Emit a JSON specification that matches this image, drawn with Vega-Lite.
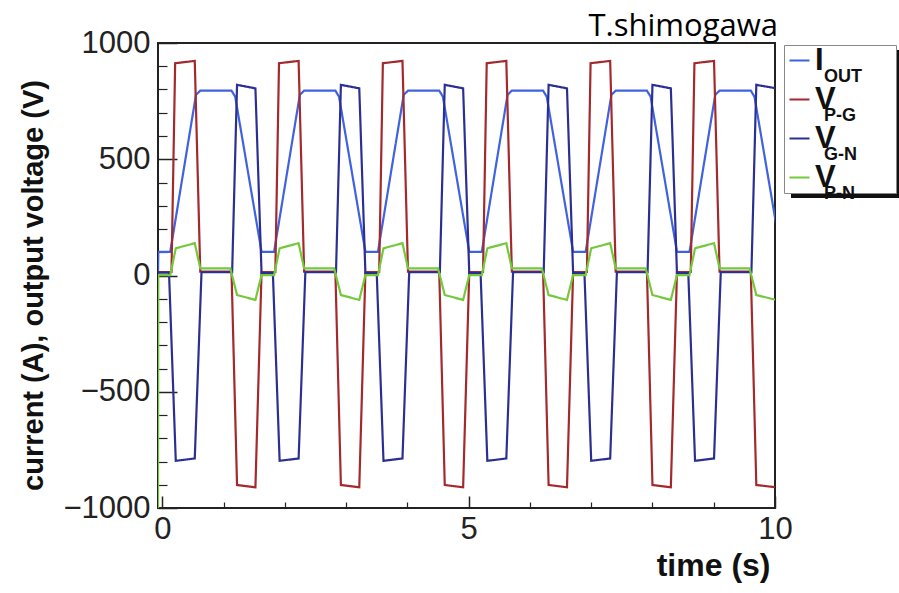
{
  "$schema": "https://vega.github.io/schema/vega-lite/v6.json",
  "width": 617,
  "height": 465,
  "autosize": {"type": "none"},
  "padding": {"left": 158, "top": 43, "right": 124, "bottom": 85},
  "background": "white",
  "config": {"view": {"stroke": "#222", "strokeWidth": 2}, "font": "Liberation Sans"},
  "title": {"text": "T.shimogawa", "anchor": "end", "frame": "group", "font": "Open Sans", "fontSize": 31, "fontWeight": "normal", "color": "black", "offset": 4, "dx": 3, "dy": 20},
  "data": {"values": [
    {"s":"I","t":-0.07,"v":0},{"s":"I","t":-0.065,"v":102},
    {"s":"I","t":0.13,"v":102},{"s":"I","t":0.55,"v":777},{"s":"I","t":0.62,"v":795},{"s":"I","t":1.13,"v":795},{"s":"I","t":1.19,"v":769},{"s":"I","t":1.62,"v":102},
    {"s":"I","t":1.825,"v":102},{"s":"I","t":2.245,"v":777},{"s":"I","t":2.315,"v":795},{"s":"I","t":2.825,"v":795},{"s":"I","t":2.885,"v":769},{"s":"I","t":3.315,"v":102},
    {"s":"I","t":3.52,"v":102},{"s":"I","t":3.94,"v":777},{"s":"I","t":4.01,"v":795},{"s":"I","t":4.52,"v":795},{"s":"I","t":4.58,"v":769},{"s":"I","t":5.01,"v":102},
    {"s":"I","t":5.215,"v":102},{"s":"I","t":5.635,"v":777},{"s":"I","t":5.705,"v":795},{"s":"I","t":6.215,"v":795},{"s":"I","t":6.275,"v":769},{"s":"I","t":6.705,"v":102},
    {"s":"I","t":6.91,"v":102},{"s":"I","t":7.33,"v":777},{"s":"I","t":7.4,"v":795},{"s":"I","t":7.91,"v":795},{"s":"I","t":7.97,"v":769},{"s":"I","t":8.4,"v":102},
    {"s":"I","t":8.605,"v":102},{"s":"I","t":9.025,"v":777},{"s":"I","t":9.095,"v":795},{"s":"I","t":9.605,"v":795},{"s":"I","t":9.665,"v":769},{"s":"I","t":10.095,"v":102},

    {"s":"PG","t":-0.07,"v":15},
    {"s":"PG","t":0.15,"v":15},{"s":"PG","t":0.21,"v":913},{"s":"PG","t":0.53,"v":923},{"s":"PG","t":0.62,"v":17},{"s":"PG","t":1.13,"v":17},{"s":"PG","t":1.22,"v":-901},{"s":"PG","t":1.52,"v":-911},{"s":"PG","t":1.62,"v":15},
    {"s":"PG","t":1.845,"v":15},{"s":"PG","t":1.905,"v":913},{"s":"PG","t":2.225,"v":923},{"s":"PG","t":2.315,"v":17},{"s":"PG","t":2.825,"v":17},{"s":"PG","t":2.915,"v":-901},{"s":"PG","t":3.215,"v":-911},{"s":"PG","t":3.315,"v":15},
    {"s":"PG","t":3.54,"v":15},{"s":"PG","t":3.6,"v":913},{"s":"PG","t":3.92,"v":923},{"s":"PG","t":4.01,"v":17},{"s":"PG","t":4.52,"v":17},{"s":"PG","t":4.61,"v":-901},{"s":"PG","t":4.91,"v":-911},{"s":"PG","t":5.01,"v":15},
    {"s":"PG","t":5.235,"v":15},{"s":"PG","t":5.295,"v":913},{"s":"PG","t":5.615,"v":923},{"s":"PG","t":5.705,"v":17},{"s":"PG","t":6.215,"v":17},{"s":"PG","t":6.305,"v":-901},{"s":"PG","t":6.605,"v":-911},{"s":"PG","t":6.705,"v":15},
    {"s":"PG","t":6.93,"v":15},{"s":"PG","t":6.99,"v":913},{"s":"PG","t":7.31,"v":923},{"s":"PG","t":7.4,"v":17},{"s":"PG","t":7.91,"v":17},{"s":"PG","t":8.0,"v":-901},{"s":"PG","t":8.3,"v":-911},{"s":"PG","t":8.4,"v":15},
    {"s":"PG","t":8.625,"v":15},{"s":"PG","t":8.685,"v":913},{"s":"PG","t":9.005,"v":923},{"s":"PG","t":9.095,"v":17},{"s":"PG","t":9.605,"v":17},{"s":"PG","t":9.695,"v":-901},{"s":"PG","t":10.02,"v":-911},{"s":"PG","t":10.12,"v":15},

    {"s":"GN","t":-0.07,"v":12},
    {"s":"GN","t":0.11,"v":12},{"s":"GN","t":0.22,"v":-797},{"s":"GN","t":0.53,"v":-787},{"s":"GN","t":0.64,"v":14},{"s":"GN","t":1.14,"v":14},{"s":"GN","t":1.22,"v":820},{"s":"GN","t":1.52,"v":805},{"s":"GN","t":1.62,"v":10},
    {"s":"GN","t":1.805,"v":10},{"s":"GN","t":1.915,"v":-797},{"s":"GN","t":2.225,"v":-787},{"s":"GN","t":2.335,"v":14},{"s":"GN","t":2.835,"v":14},{"s":"GN","t":2.915,"v":820},{"s":"GN","t":3.215,"v":805},{"s":"GN","t":3.315,"v":10},
    {"s":"GN","t":3.5,"v":10},{"s":"GN","t":3.61,"v":-797},{"s":"GN","t":3.92,"v":-787},{"s":"GN","t":4.03,"v":14},{"s":"GN","t":4.53,"v":14},{"s":"GN","t":4.61,"v":820},{"s":"GN","t":4.91,"v":805},{"s":"GN","t":5.01,"v":10},
    {"s":"GN","t":5.195,"v":10},{"s":"GN","t":5.305,"v":-797},{"s":"GN","t":5.615,"v":-787},{"s":"GN","t":5.725,"v":14},{"s":"GN","t":6.225,"v":14},{"s":"GN","t":6.305,"v":820},{"s":"GN","t":6.605,"v":805},{"s":"GN","t":6.705,"v":10},
    {"s":"GN","t":6.89,"v":10},{"s":"GN","t":7.0,"v":-797},{"s":"GN","t":7.31,"v":-787},{"s":"GN","t":7.42,"v":14},{"s":"GN","t":7.92,"v":14},{"s":"GN","t":8.0,"v":820},{"s":"GN","t":8.3,"v":805},{"s":"GN","t":8.4,"v":10},
    {"s":"GN","t":8.585,"v":10},{"s":"GN","t":8.695,"v":-797},{"s":"GN","t":9.005,"v":-787},{"s":"GN","t":9.115,"v":14},{"s":"GN","t":9.615,"v":14},{"s":"GN","t":9.695,"v":820},{"s":"GN","t":10.02,"v":805},{"s":"GN","t":10.12,"v":10},

    {"s":"PN","t":-0.07,"v":-1000},{"s":"PN","t":-0.065,"v":2},
    {"s":"PN","t":0.13,"v":2},{"s":"PN","t":0.22,"v":117},{"s":"PN","t":0.53,"v":139},{"s":"PN","t":0.62,"v":31},{"s":"PN","t":1.11,"v":31},{"s":"PN","t":1.22,"v":-84},{"s":"PN","t":1.52,"v":-105},{"s":"PN","t":1.62,"v":2},
    {"s":"PN","t":1.825,"v":2},{"s":"PN","t":1.915,"v":117},{"s":"PN","t":2.225,"v":139},{"s":"PN","t":2.315,"v":31},{"s":"PN","t":2.805,"v":31},{"s":"PN","t":2.915,"v":-84},{"s":"PN","t":3.215,"v":-105},{"s":"PN","t":3.315,"v":2},
    {"s":"PN","t":3.52,"v":2},{"s":"PN","t":3.61,"v":117},{"s":"PN","t":3.92,"v":139},{"s":"PN","t":4.01,"v":31},{"s":"PN","t":4.5,"v":31},{"s":"PN","t":4.61,"v":-84},{"s":"PN","t":4.91,"v":-105},{"s":"PN","t":5.01,"v":2},
    {"s":"PN","t":5.215,"v":2},{"s":"PN","t":5.305,"v":117},{"s":"PN","t":5.615,"v":139},{"s":"PN","t":5.705,"v":31},{"s":"PN","t":6.195,"v":31},{"s":"PN","t":6.305,"v":-84},{"s":"PN","t":6.605,"v":-105},{"s":"PN","t":6.705,"v":2},
    {"s":"PN","t":6.91,"v":2},{"s":"PN","t":7.0,"v":117},{"s":"PN","t":7.31,"v":139},{"s":"PN","t":7.4,"v":31},{"s":"PN","t":7.89,"v":31},{"s":"PN","t":8.0,"v":-84},{"s":"PN","t":8.3,"v":-105},{"s":"PN","t":8.4,"v":2},
    {"s":"PN","t":8.605,"v":2},{"s":"PN","t":8.695,"v":117},{"s":"PN","t":9.005,"v":139},{"s":"PN","t":9.095,"v":31},{"s":"PN","t":9.585,"v":31},{"s":"PN","t":9.695,"v":-84},{"s":"PN","t":10.02,"v":-105},{"s":"PN","t":10.12,"v":2}
  ]},
  "resolve": {"axis": {"x": "independent", "y": "independent"}},
  "layer": [
    {
      "mark": {"type": "line", "clip": true, "strokeWidth": 2.2},
      "encoding": {
        "x": {"field": "t", "type": "quantitative",
          "scale": {"domain": [-0.07, 10], "nice": false, "zero": false},
          "axis": {"orient": "bottom", "values": [0, 5, 10], "format": "d", "tickSize": -12, "tickColor": "#222", "tickWidth": 1.5, "domain": false, "grid": false,
            "labelFontSize": 31, "labelColor": "#222", "labelPadding": 18, "labelFlush": false,
            "title": "time (s)", "titleFontSize": 32, "titleFontWeight": "bold", "titleColor": "#111",
            "titleX": 612, "titleY": 57, "titleAlign": "right", "titleBaseline": "middle", "titleAnchor": "end"}},
        "y": {"field": "v", "type": "quantitative",
          "scale": {"domain": [-1000, 1000], "nice": false, "zero": false},
          "axis": {"orient": "left", "values": [-1000, -500, 0, 500, 1000], "format": "d", "tickSize": -19, "tickColor": "#222", "tickWidth": 1.5, "domain": false, "grid": false,
            "labelFontSize": 31, "labelColor": "#222", "labelPadding": 27, "labelFlush": false, "labelOverlap": false,
            "title": "current (A), output voltage (V)", "titleFontSize": 29, "titleFontWeight": "bold", "titleColor": "#111",
            "titleAngle": -90, "titleX": -125, "titleY": 242, "titleAlign": "center", "titleBaseline": "middle"}},
        "color": {"field": "s", "type": "nominal",
          "scale": {"domain": ["I", "PG", "GN", "PN"], "range": ["#3f62e0", "#a3292c", "#2c2f92", "#72c93c"]},
          "legend": {"orient": "none", "legendX": 633, "legendY": 7, "title": "\u00a0", "titleOrient": "right", "titlePadding": 60,
            "symbolType": "stroke", "symbolOpacity": 0, "symbolStrokeWidth": 2, "symbolSize": 400,
            "labelExpr": "datum.value == 'I' ? 'I' : 'V'", "labelFontSize": 31, "labelFontWeight": "bold", "labelOpacity": 0, "labelOffset": 0,
            "padding": 0, "rowPadding": 7, "fillColor": "#111",
            "encode": {"symbols": {"update": {"opacity": {"value": 0}}}}}},
        "strokeDash": {"field": "s", "type": "nominal",
          "scale": {"domain": ["I", "PG", "GN", "PN", "_"], "range": [[1, 0], [1, 0], [1, 0], [1, 0], [1, 0]]},
          "legend": {"orient": "none", "legendX": 626, "legendY": 2, "title": "\u00a0", "titleOrient": "right", "titlePadding": 60, "values": ["I", "PG", "GN", "PN"],
            "symbolType": "stroke", "symbolStrokeWidth": 2, "symbolSize": 400,
            "labelExpr": "datum.value == 'I' ? 'I' : 'V'", "labelFontSize": 31, "labelFontWeight": "bold", "labelColor": "#111", "labelOffset": 0,
            "padding": 0, "rowPadding": 7, "strokeColor": "#888", "fillColor": "white",
            "encode": {"symbols": {"update": {"stroke": {"scale": "color", "field": "value"}, "opacity": {"value": 1}}}}}},
        "opacity": {"field": "s", "type": "nominal",
          "scale": {"type": "ordinal", "domain": ["I", "PG", "GN", "PN", "__"], "range": [1, 1, 1, 1, 1]},
          "legend": {"orient": "none", "legendX": 634, "legendY": 18, "title": null, "values": ["I", "PG", "GN", "PN"],
            "symbolType": "square", "symbolStrokeWidth": 0, "symbolSize": 1024,
            "labelExpr": "datum.value == 'I' ? 'OUT' : datum.value == 'PG' ? 'P-G' : datum.value == 'GN' ? 'G-N' : 'P-N'",
            "labelFontSize": 18, "labelFontWeight": "bold", "labelColor": "#111", "labelOffset": 0,
            "padding": 0, "rowPadding": 7,
            "encode": {"symbols": {"update": {"opacity": {"value": 0}}}}}}
      }
    },
    {
      "mark": {"type": "point", "opacity": 0, "size": 0},
      "encoding": {
        "x": {"field": "t", "type": "quantitative",
          "axis": {"orient": "bottom", "values": [1, 2, 3, 4, 6, 7, 8, 9], "tickSize": -6, "tickColor": "#222", "tickWidth": 1.2, "domain": false, "grid": false, "labels": false, "title": null}},
        "y": {"field": "v", "type": "quantitative",
          "axis": {"orient": "left", "values": [-900, -800, -700, -600, -400, -300, -200, -100, 100, 200, 300, 400, 600, 700, 800, 900], "tickSize": -9, "tickColor": "#222", "tickWidth": 1.2, "domain": false, "grid": false, "labels": false, "title": null}}
      }
    }
  ]
}
